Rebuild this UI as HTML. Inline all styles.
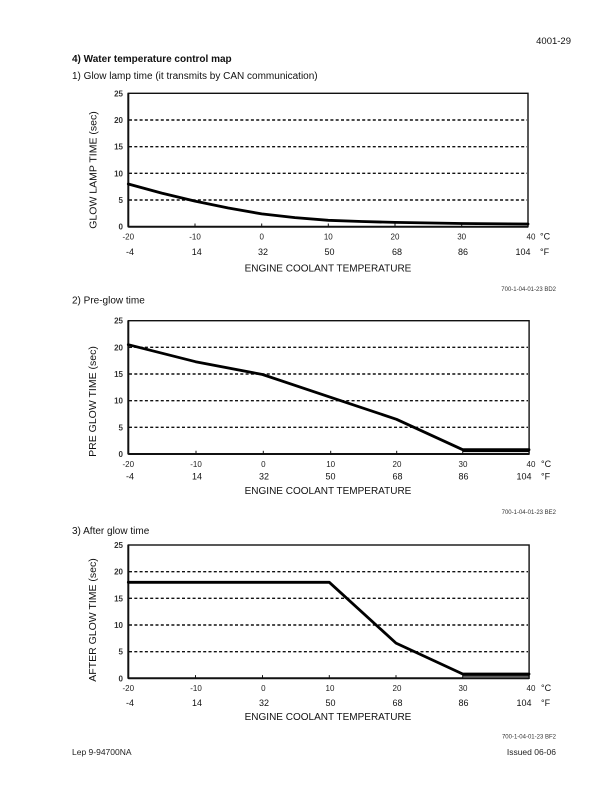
<!DOCTYPE html>
<html>
<head>
<meta charset="utf-8">
<style>
  html,body{margin:0;padding:0;background:#fff;}
  svg{display:block;}
  text{font-family:"Liberation Sans",Arial,sans-serif;fill:#111;}
  .yt{font-size:8px;font-weight:bold;text-anchor:end;fill:#333;}
  .xc{font-size:8px;text-anchor:middle;fill:#222;}
  .xf{font-size:9px;text-anchor:middle;}
  .ttl{font-size:10px;text-anchor:middle;}
  .yl{font-size:10.5px;text-anchor:middle;}
  .code{font-size:6px;text-anchor:end;fill:#333;}
  .grid{stroke:#111;stroke-width:1.4;stroke-dasharray:3,2.3;fill:none;}
  .frame{stroke:#111;stroke-width:1.4;fill:none;}
  .axis{stroke:#111;stroke-width:2;fill:none;}
  .data{stroke:#000;stroke-width:2.8;fill:none;stroke-linejoin:round;stroke-linecap:round;}
  .tick{stroke:#111;stroke-width:1;}
</style>
</head>
<body>
<svg width="612" height="792" viewBox="0 0 612 792" xmlns="http://www.w3.org/2000/svg">
  <!-- header -->
  <text x="571" y="44" style="font-size:9.5px;text-anchor:end;">4001-29</text>
  <text x="72" y="62" style="font-size:10px;font-weight:bold;">4) Water temperature control map</text>
  <text x="72" y="79" style="font-size:10px;">1) Glow lamp time (it transmits by CAN communication)</text>

  <!-- ============ CHART 1 ============ -->
  <g>
    <line class="grid" x1="129" y1="120" x2="527" y2="120"/>
    <line class="grid" x1="129" y1="146.7" x2="527" y2="146.7"/>
    <line class="grid" x1="129" y1="173.3" x2="527" y2="173.3"/>
    <line class="grid" x1="129" y1="200" x2="527" y2="200"/>
    <rect class="frame" x="128.3" y="93.3" width="399.7" height="133.4"/>
    <line class="axis" x1="128.3" y1="93.3" x2="128.3" y2="226.7"/>
    <line class="axis" x1="128.3" y1="226.7" x2="528" y2="226.7"/>
    <line class="tick" x1="195" y1="226.7" x2="195" y2="223.5"/>
    <line class="tick" x1="261.7" y1="226.7" x2="261.7" y2="223.5"/>
    <line class="tick" x1="328.3" y1="226.7" x2="328.3" y2="223.5"/>
    <line class="tick" x1="395" y1="226.7" x2="395" y2="223.5"/>
    <line class="tick" x1="461.7" y1="226.7" x2="461.7" y2="223.5"/>
    <polyline class="data" points="128.3,184 161.7,193.1 195,201.1 228.3,208 261.7,213.9 295,217.6 328.3,220.3 361.7,221.5 395,222.4 461.7,223.5 528,224"/>
    <text class="yt" x="123" y="96.3">25</text>
    <text class="yt" x="123" y="123">20</text>
    <text class="yt" x="123" y="149.7">15</text>
    <text class="yt" x="123" y="176.3">10</text>
    <text class="yt" x="123" y="203">5</text>
    <text class="yt" x="123" y="229.7">0</text>
    <text class="xc" x="128.3" y="239.5">-20</text>
    <text class="xc" x="195" y="239.5">-10</text>
    <text class="xc" x="261.7" y="239.5">0</text>
    <text class="xc" x="328.3" y="239.5">10</text>
    <text class="xc" x="395" y="239.5">20</text>
    <text class="xc" x="461.7" y="239.5">30</text>
    <text class="xc" x="531" y="239.5">40</text>
    <text x="540" y="239.5" style="font-size:9px;">°C</text>
    <text class="xf" x="130" y="255">-4</text>
    <text class="xf" x="196.7" y="255">14</text>
    <text class="xf" x="263" y="255">32</text>
    <text class="xf" x="329.5" y="255">50</text>
    <text class="xf" x="397" y="255">68</text>
    <text class="xf" x="463" y="255">86</text>
    <text class="xf" x="523" y="255">104</text>
    <text x="540" y="255" style="font-size:9px;">°F</text>
    <text class="ttl" x="328" y="271.5">ENGINE COOLANT TEMPERATURE</text>
    <text class="yl" transform="translate(96.5,170) rotate(-90)">GLOW LAMP TIME (sec)</text>
    <text class="code" x="556" y="291">700-1-04-01-23 BD2</text>
  </g>

  <text x="72" y="303.5" style="font-size:10px;">2) Pre-glow time</text>

  <!-- ============ CHART 2 ============ -->
  <g>
    <line class="grid" x1="129" y1="347.3" x2="528" y2="347.3"/>
    <line class="grid" x1="129" y1="374" x2="528" y2="374"/>
    <line class="grid" x1="129" y1="400.7" x2="528" y2="400.7"/>
    <line class="grid" x1="129" y1="427.3" x2="528" y2="427.3"/>
    <rect class="frame" x="128.3" y="320.7" width="400.8" height="133.3"/>
    <line class="axis" x1="128.3" y1="320.7" x2="128.3" y2="454"/>
    <line class="axis" x1="128.3" y1="454" x2="529.1" y2="454"/>
    <line class="tick" x1="196" y1="454" x2="196" y2="450.8"/>
    <line class="tick" x1="263.3" y1="454" x2="263.3" y2="450.8"/>
    <line class="tick" x1="330.7" y1="454" x2="330.7" y2="450.8"/>
    <line class="tick" x1="396.7" y1="454" x2="396.7" y2="450.8"/>
    <line class="tick" x1="462.7" y1="454" x2="462.7" y2="450.8"/>
    <polyline class="data" points="128.3,344.7 195.5,361.7 262.5,374.5 329.5,396.9 396.5,419.3 462.7,449.7 529,449.7"/>
    <line x1="462.7" y1="451.5" x2="529" y2="451.5" stroke="#000" stroke-width="1.2"/>
    <text class="yt" x="123" y="323.7">25</text>
    <text class="yt" x="123" y="350.3">20</text>
    <text class="yt" x="123" y="377">15</text>
    <text class="yt" x="123" y="403.7">10</text>
    <text class="yt" x="123" y="430.3">5</text>
    <text class="yt" x="123" y="457">0</text>
    <text class="xc" x="128.3" y="466.8">-20</text>
    <text class="xc" x="196" y="466.8">-10</text>
    <text class="xc" x="263.3" y="466.8">0</text>
    <text class="xc" x="330.7" y="466.8">10</text>
    <text class="xc" x="397" y="466.8">20</text>
    <text class="xc" x="463" y="466.8">30</text>
    <text class="xc" x="531" y="466.8">40</text>
    <text x="541" y="466.8" style="font-size:9px;">°C</text>
    <text class="xf" x="130" y="479.3">-4</text>
    <text class="xf" x="197" y="479.3">14</text>
    <text class="xf" x="264" y="479.3">32</text>
    <text class="xf" x="330.5" y="479.3">50</text>
    <text class="xf" x="397.5" y="479.3">68</text>
    <text class="xf" x="463.5" y="479.3">86</text>
    <text class="xf" x="524" y="479.3">104</text>
    <text x="541" y="479.3" style="font-size:9px;">°F</text>
    <text class="ttl" x="328" y="494.2">ENGINE COOLANT TEMPERATURE</text>
    <text class="yl" transform="translate(96,401.5) rotate(-90)">PRE GLOW TIME (sec)</text>
    <text class="code" x="556" y="514">700-1-04-01-23 BE2</text>
  </g>

  <text x="72" y="534" style="font-size:10px;">3) After glow time</text>

  <!-- ============ CHART 3 ============ -->
  <g>
    <line class="grid" x1="129" y1="571.7" x2="528" y2="571.7"/>
    <line class="grid" x1="129" y1="598.3" x2="528" y2="598.3"/>
    <line class="grid" x1="129" y1="625" x2="528" y2="625"/>
    <line class="grid" x1="129" y1="651.7" x2="528" y2="651.7"/>
    <rect class="frame" x="128.3" y="545" width="400.8" height="133.3"/>
    <line class="axis" x1="128.3" y1="545" x2="128.3" y2="678.3"/>
    <line class="axis" x1="128.3" y1="678.3" x2="529.1" y2="678.3"/>
    <line class="tick" x1="195.5" y1="678.3" x2="195.5" y2="675.1"/>
    <line class="tick" x1="262.5" y1="678.3" x2="262.5" y2="675.1"/>
    <line class="tick" x1="329.3" y1="678.3" x2="329.3" y2="675.1"/>
    <line class="tick" x1="396" y1="678.3" x2="396" y2="675.1"/>
    <line class="tick" x1="462.7" y1="678.3" x2="462.7" y2="675.1"/>
    <polyline class="data" points="128.3,582.3 329.3,582.3 396,643.1 462.7,674 529,674"/>
    <line x1="462.7" y1="676" x2="529" y2="676" stroke="#000" stroke-width="1.2"/>
    <text class="yt" x="123" y="548">25</text>
    <text class="yt" x="123" y="574.7">20</text>
    <text class="yt" x="123" y="601.3">15</text>
    <text class="yt" x="123" y="628">10</text>
    <text class="yt" x="123" y="654.7">5</text>
    <text class="yt" x="123" y="681.3">0</text>
    <text class="xc" x="128.3" y="691.1">-20</text>
    <text class="xc" x="196" y="691.1">-10</text>
    <text class="xc" x="263.3" y="691.1">0</text>
    <text class="xc" x="330" y="691.1">10</text>
    <text class="xc" x="397" y="691.1">20</text>
    <text class="xc" x="463" y="691.1">30</text>
    <text class="xc" x="531" y="691.1">40</text>
    <text x="541" y="691.1" style="font-size:9px;">°C</text>
    <text class="xf" x="130" y="706">-4</text>
    <text class="xf" x="197" y="706">14</text>
    <text class="xf" x="264" y="706">32</text>
    <text class="xf" x="330.5" y="706">50</text>
    <text class="xf" x="397.5" y="706">68</text>
    <text class="xf" x="463.5" y="706">86</text>
    <text class="xf" x="524" y="706">104</text>
    <text x="541" y="706" style="font-size:9px;">°F</text>
    <text class="ttl" x="328" y="720.2">ENGINE COOLANT TEMPERATURE</text>
    <text class="yl" transform="translate(96,620) rotate(-90)">AFTER GLOW TIME (sec)</text>
    <text class="code" x="556" y="738.5">700-1-04-01-23 BF2</text>
  </g>

  <!-- footer -->
  <text x="72" y="755" style="font-size:8.5px;fill:#222;">Lep 9-94700NA</text>
  <text x="556" y="755" style="font-size:8.5px;fill:#222;text-anchor:end;">Issued 06-06</text>
</svg>
</body>
</html>
